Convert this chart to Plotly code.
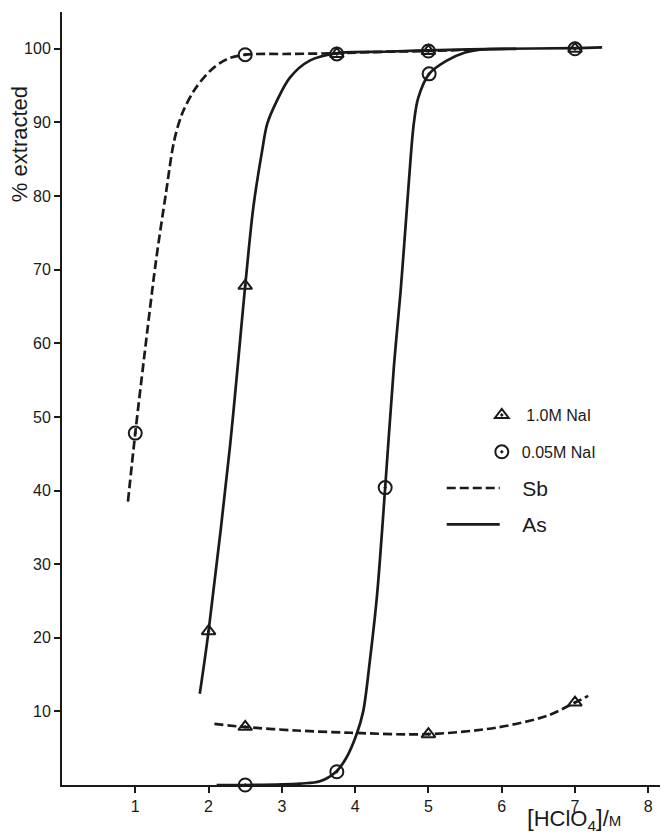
import plotly.graph_objects as go

# ---- measured points ----
# 1.0 M NaI (triangles)
tri_x = [2.5, 5.0, 7.0, 2.0, 2.5, 3.75, 5.0, 7.0]
tri_y = [7.9, 6.9, 11.2, 20.9, 67.8, 99.3, 99.7, 100.0]
# 0.05 M NaI (circles)
cir_x = [1.0, 2.5, 3.75, 5.0, 7.0, 2.5, 3.75, 4.41, 5.01]
cir_y = [47.8, 99.2, 99.3, 99.7, 100.0, 0.0, 1.8, 40.4, 96.6]

# ---- drawn curves ----
sb_05_x = [0.9, 1.0, 1.12, 1.28, 1.42, 1.53, 1.64, 1.8, 2.02, 2.25, 2.5, 3.1, 3.75, 4.4, 5.0, 5.6]
sb_05_y = [38.5, 47.8, 58.0, 71.0, 80.5, 87.5, 91.2, 94.3, 97.0, 98.6, 99.2, 99.3, 99.4, 99.6, 99.7, 99.9]

sb_10_x = [2.08, 2.47, 3.2, 3.93, 4.98, 5.93, 6.62, 7.0, 7.18]
sb_10_y = [8.3, 7.9, 7.4, 7.1, 6.9, 7.8, 9.4, 11.2, 12.1]

as_10_x = [1.88, 2.0, 2.29, 2.5, 2.61, 2.73, 2.8, 2.93, 3.11, 3.38, 3.75, 4.4, 5.0, 6.0, 7.0, 7.37]
as_10_y = [12.4, 20.9, 45.8, 67.8, 78.4, 86.1, 89.8, 92.9, 96.1, 98.4, 99.4, 99.6, 99.8, 100.0, 100.1, 100.2]

as_05_x = [2.11, 2.5, 3.25, 3.52, 3.74, 3.88, 4.02, 4.11, 4.2, 4.3, 4.41, 4.53, 4.62, 4.7, 4.76,
           4.8, 4.86, 5.01, 5.25, 5.5, 5.7, 6.2]
as_05_y = [0.0, 0.0, 0.2, 0.5, 1.8, 3.7, 6.9, 10.0, 16.8, 25.9, 40.4, 57.0, 67.0, 77.5, 85.5,
           89.8, 93.3, 96.6, 98.4, 99.5, 99.9, 100.0]

x_ticks = [1, 2, 3, 4, 5, 6, 7, 8]
y_ticks = [10, 20, 30, 40, 50, 60, 70, 80, 90, 100]

INK = "#1a1a1a"
FONT = "Liberation Sans"
DASH = "9px,4px"

fig = go.Figure()

def curve(x, y, dash, name, show, group):
    fig.add_trace(go.Scatter(
        x=x, y=y, mode="lines", name=name, showlegend=show, legend="legend",
        legendgroup=group,
        line=dict(color=INK, width=2.7, dash=dash, shape="spline", smoothing=0.9),
        hoverinfo="skip", cliponaxis=False))

curve(sb_05_x, sb_05_y, DASH, "\u00a0\u00a0\u00a0Sb", True, "sb")
curve(sb_10_x, sb_10_y, DASH, "Sb", False, "sb")
curve(as_10_x, as_10_y, "solid", "\u00a0\u00a0\u00a0As", True, "as")
curve(as_05_x, as_05_y, "solid", "As", False, "as")

fig.add_trace(go.Scatter(
    x=tri_x, y=tri_y, mode="markers", name="\u00a01.0M NaI", legend="legend2",
    legendgroup="tri",
    marker=dict(symbol="triangle-up-open-dot", size=12, color=INK, line=dict(width=2, color=INK)),
    cliponaxis=False))
fig.add_trace(go.Scatter(
    x=cir_x, y=cir_y, mode="markers", name="0.05M NaI", legend="legend2",
    legendgroup="cir",
    marker=dict(symbol="circle-open-dot", size=13, color=INK, line=dict(width=2, color=INK)),
    cliponaxis=False))

axis_common = dict(
    showline=True, linewidth=2, linecolor=INK, showgrid=False, zeroline=False,
    ticks="outside", ticklen=6, tickwidth=1.5, tickcolor=INK, automargin=False,
    tickfont=dict(family=FONT, size=16, color=INK),
)

fig.update_layout(
    width=664, height=836,
    margin=dict(l=62, r=4, t=12, b=51),
    plot_bgcolor="white", paper_bgcolor="white",
    xaxis=dict(range=[0, 8.16], tickvals=x_ticks, **axis_common),
    yaxis=dict(range=[0, 105], tickvals=y_ticks, **axis_common),
    legend=dict(x=0.635, y=0.4103, xanchor="left", yanchor="top",
                font=dict(family=FONT, size=21, color=INK),
                itemwidth=53, tracegroupgap=6, bgcolor="rgba(0,0,0,0)"),
    legend2=dict(x=0.702, y=0.5005, xanchor="left", yanchor="top",
                 font=dict(family=FONT, size=16, color=INK),
                 itemwidth=30, tracegroupgap=13, bgcolor="rgba(0,0,0,0)"),
    annotations=[
        dict(text="% extracted", xref="paper", yref="paper", x=-0.072, y=0.829,
             xanchor="center", yanchor="middle",
             textangle=-90, showarrow=False, font=dict(family=FONT, size=22, color=INK)),
        dict(text="<span style='font-size:24px'>[</span>HClO<sub>4</sub><span style='font-size:24px'>]</span>/<span style='font-size:15px'>M</span>",
             xref="paper", yref="paper", x=0.856, y=-0.0445,
             xanchor="center", yanchor="middle", showarrow=False,
             font=dict(family=FONT, size=22, color=INK)),
    ],
)

fig.write_html("out.html", config={"displayModeBar": False},
               post_script="document.body.style.margin='0';document.body.style.overflow='hidden';")
